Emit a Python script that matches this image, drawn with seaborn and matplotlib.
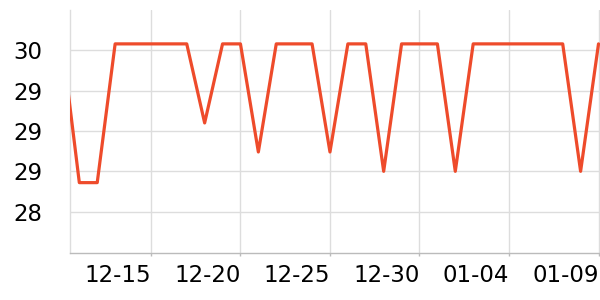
import matplotlib
matplotlib.use("Agg")
import matplotlib.pyplot as plt
import matplotlib.dates as mdates
from matplotlib.ticker import StrMethodFormatter
import pandas as pd
import seaborn as sns

dates = ["2023-12-10", "2023-12-11", "2023-12-12", "2023-12-13", "2023-12-14",
         "2023-12-15", "2023-12-16", "2023-12-17", "2023-12-18", "2023-12-19",
         "2023-12-20", "2023-12-21", "2023-12-22", "2023-12-23", "2023-12-24",
         "2023-12-25", "2023-12-26", "2023-12-27", "2023-12-28", "2023-12-29",
         "2023-12-30", "2023-12-31", "2024-01-01", "2024-01-02", "2024-01-03",
         "2024-01-04", "2024-01-05", "2024-01-06", "2024-01-07", "2024-01-08",
         "2024-01-09"]
values = [29.58, 28.68, 28.68, 29.54, 29.54,
          29.54, 29.54, 29.54, 29.05, 29.54,
          29.54, 28.87, 29.54, 29.54, 29.54,
          28.87, 29.54, 29.54, 28.75, 29.54,
          29.54, 29.54, 28.75, 29.54, 29.54,
          29.54, 29.54, 29.54, 29.54, 28.75,
          29.54]
x_ticks = ["2023-12-15", "2023-12-20", "2023-12-25", "2023-12-30",
           "2024-01-04", "2024-01-09"]
y_ticks = [28.5, 28.75, 29.0, 29.25, 29.5]

df = pd.DataFrame({"date": pd.to_datetime(dates), "value": values})

sns.set_theme(style="whitegrid")
plt.rcParams["font.family"] = ["DejaVu Sans"]

fig = plt.figure(figsize=(6, 3), dpi=100)
ax = fig.add_axes([70 / 600, (300 - 252.5) / 300, 530 / 600, 242.5 / 300])

sns.lineplot(data=df, x="date", y="value", ax=ax, color="#ee4b2b",
             linewidth=2.3, zorder=3)

ax.set_xlim(pd.Timestamp("2023-12-10 11:30"), pd.Timestamp("2024-01-09 02:00"))
ax.set_ylim(28.247, 29.75)
ax.set_xticks(pd.to_datetime(x_ticks))
ax.xaxis.set_major_formatter(mdates.DateFormatter("%m-%d"))
ax.set_yticks(y_ticks)
ax.yaxis.set_major_formatter(StrMethodFormatter("{x:.0f}"))

ax.set_xlabel("")
ax.set_ylabel("")
ax.grid(True, color="#dddddd", linewidth=1)
for lbl in ax.get_xticklabels():
    lbl.set_ha("right")
ax.tick_params(axis="x", labelsize=16.5, length=2.5, width=1, color="#bbbbbb",
               pad=6, labelcolor="black", bottom=True)
ax.tick_params(axis="y", labelsize=16.5, length=0, pad=20, labelcolor="black")

for side in ["top", "right"]:
    ax.spines[side].set_visible(False)
ax.spines["left"].set_color("#dddddd")
ax.spines["left"].set_linewidth(1)
ax.spines["bottom"].set_color("#bbbbbb")
ax.spines["bottom"].set_linewidth(1)

fig.savefig("out.png", dpi=100)
